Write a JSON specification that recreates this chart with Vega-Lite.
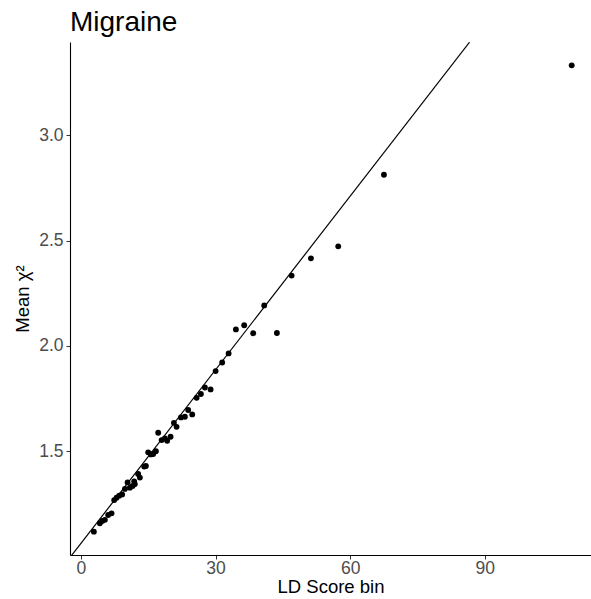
{
  "$schema": "https://vega.github.io/schema/vega-lite/v6.json",
  "autosize": "none",
  "width": 521,
  "height": 513,
  "padding": {"left": 70, "top": 42, "right": 0, "bottom": 44},
  "background": "white",
  "title": {"text": "Migraine", "anchor": "start", "frame": "group", "fontSize": 28, "fontWeight": "normal", "font": "Liberation Sans", "color": "black", "offset": 5},
  "config": {
    "view": {"stroke": null},
    "axis": {
      "grid": false,
      "domainColor": "black",
      "domainWidth": 1.1,
      "tickColor": "#333333",
      "tickSize": 4,
      "tickWidth": 1,
      "labelColor": "#4D4D4D",
      "labelFont": "Liberation Sans",
      "labelFontSize": 17.5,
      "titleFont": "Liberation Sans",
      "titleFontSize": 18.5,
      "titleFontWeight": "normal",
      "titleColor": "black"
    }
  },
  "datasets": {
    "bins": [
      {"ld": 2.90, "chisq": 1.117},
      {"ld": 4.23, "chisq": 1.157},
      {"ld": 4.75, "chisq": 1.168},
      {"ld": 5.35, "chisq": 1.173},
      {"ld": 6.08, "chisq": 1.196},
      {"ld": 6.84, "chisq": 1.204},
      {"ld": 7.42, "chisq": 1.267},
      {"ld": 7.96, "chisq": 1.278},
      {"ld": 8.54, "chisq": 1.288},
      {"ld": 9.20, "chisq": 1.294},
      {"ld": 9.81, "chisq": 1.320},
      {"ld": 10.41, "chisq": 1.351},
      {"ld": 10.92, "chisq": 1.326},
      {"ld": 11.52, "chisq": 1.334},
      {"ld": 12.03, "chisq": 1.343},
      {"ld": 11.88, "chisq": 1.356},
      {"ld": 12.77, "chisq": 1.391},
      {"ld": 13.15, "chisq": 1.374},
      {"ld": 14.11, "chisq": 1.426},
      {"ld": 14.49, "chisq": 1.429},
      {"ld": 15.00, "chisq": 1.494},
      {"ld": 15.60, "chisq": 1.484},
      {"ld": 16.11, "chisq": 1.486},
      {"ld": 16.72, "chisq": 1.499},
      {"ld": 17.23, "chisq": 1.587},
      {"ld": 17.99, "chisq": 1.552},
      {"ld": 18.72, "chisq": 1.560},
      {"ld": 19.23, "chisq": 1.549},
      {"ld": 19.99, "chisq": 1.568},
      {"ld": 20.73, "chisq": 1.634},
      {"ld": 21.33, "chisq": 1.615},
      {"ld": 22.29, "chisq": 1.660},
      {"ld": 23.18, "chisq": 1.663},
      {"ld": 23.91, "chisq": 1.695},
      {"ld": 24.81, "chisq": 1.674},
      {"ld": 25.79, "chisq": 1.753},
      {"ld": 26.74, "chisq": 1.771},
      {"ld": 27.64, "chisq": 1.802},
      {"ld": 28.91, "chisq": 1.793},
      {"ld": 30.02, "chisq": 1.880},
      {"ld": 31.49, "chisq": 1.921},
      {"ld": 32.92, "chisq": 1.964},
      {"ld": 34.54, "chisq": 2.078},
      {"ld": 36.39, "chisq": 2.098},
      {"ld": 38.40, "chisq": 2.060},
      {"ld": 40.85, "chisq": 2.192},
      {"ld": 43.68, "chisq": 2.061},
      {"ld": 46.96, "chisq": 2.334},
      {"ld": 51.26, "chisq": 2.416},
      {"ld": 57.34, "chisq": 2.473},
      {"ld": 67.53, "chisq": 2.813},
      {"ld": 109.36, "chisq": 3.333}
    ],
    "fit": [
      {"ld": -2.1, "chisq": 1.003},
      {"ld": 86.6, "chisq": 3.443}
    ]
  },
  "layer": [
    {
      "data": {"name": "fit"},
      "mark": {"type": "line", "color": "black", "strokeWidth": 1.2, "clip": true},
      "encoding": {
        "x": {"field": "ld", "type": "quantitative"},
        "y": {"field": "chisq", "type": "quantitative"}
      }
    },
    {
      "data": {"name": "bins"},
      "mark": {"type": "point", "filled": true, "color": "black", "opacity": 1, "size": 34},
      "encoding": {
        "x": {
          "field": "ld", "type": "quantitative",
          "scale": {"domain": [-2.42, 113.66], "nice": false, "zero": false},
          "axis": {"title": "LD Score bin", "values": [0, 30, 60, 90], "titlePadding": 1, "labelPadding": 0}
        },
        "y": {
          "field": "chisq", "type": "quantitative",
          "scale": {"domain": [1.006, 3.444], "nice": false, "zero": false},
          "axis": {"title": "Mean χ²", "values": [1.5, 2.0, 2.5, 3.0], "format": ".1f", "titlePadding": 6, "labelPadding": 3}
        }
      }
    }
  ]
}
